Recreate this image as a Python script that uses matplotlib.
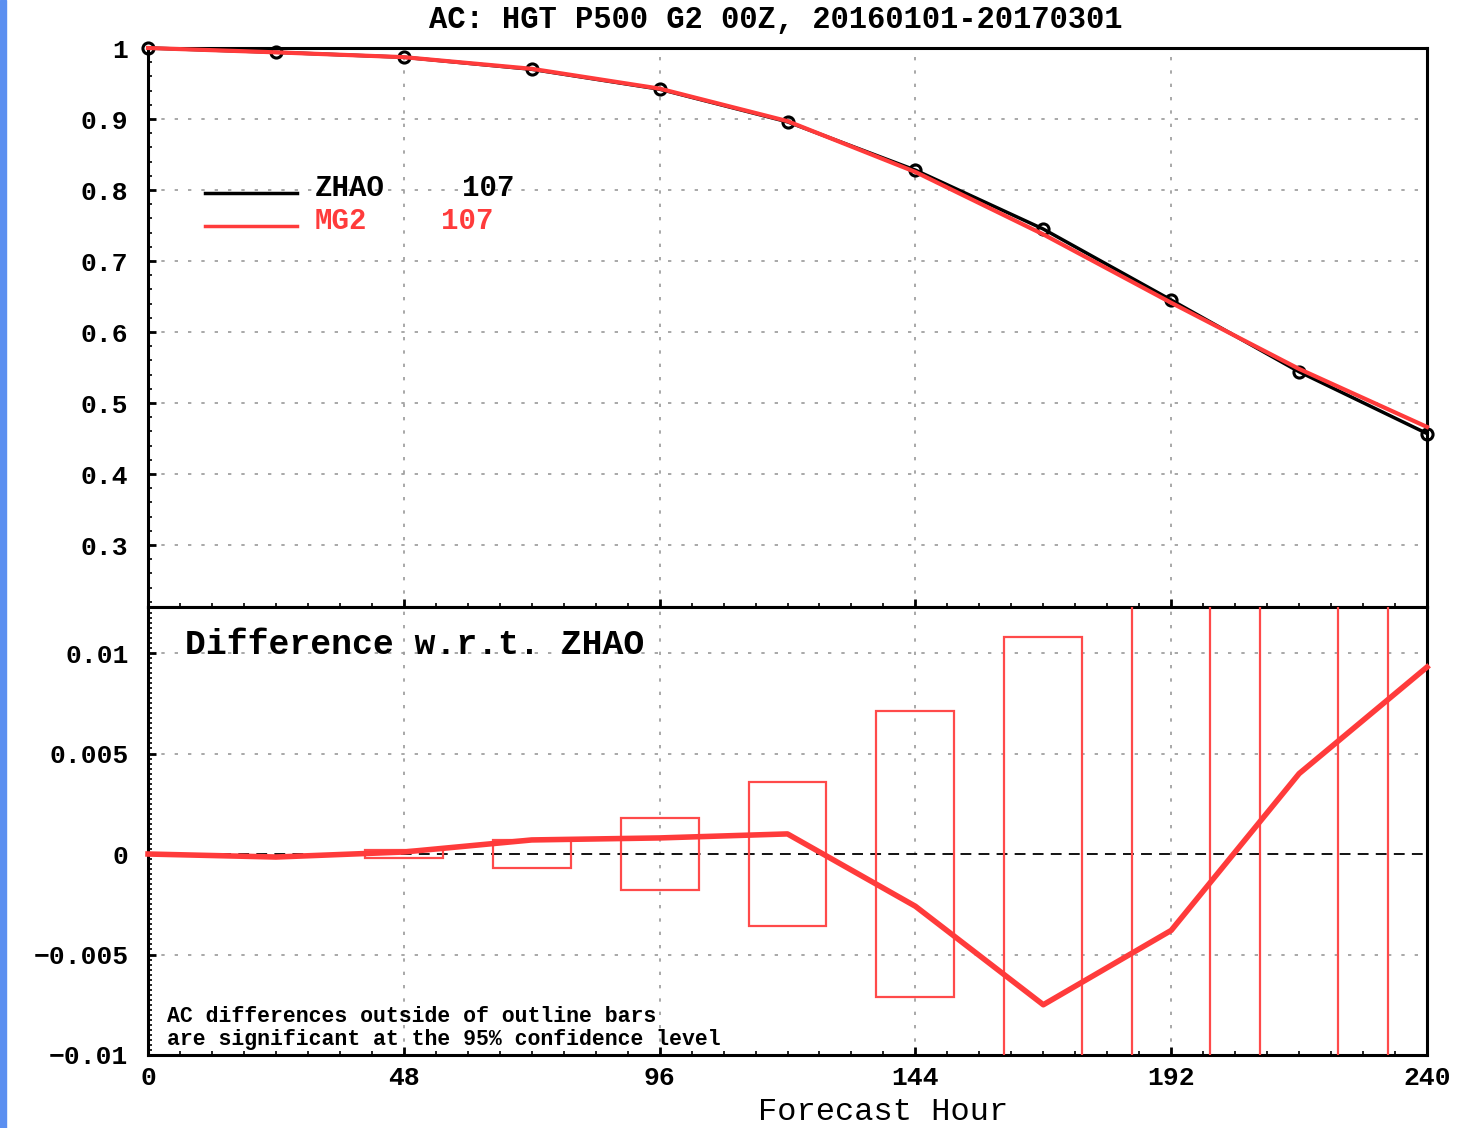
import matplotlib
matplotlib.use("Agg")
import matplotlib.pyplot as plt
from matplotlib.patches import Rectangle
from matplotlib.ticker import MultipleLocator

hours = [0, 24, 48, 72, 96, 120, 144, 168, 192, 216, 240]
zhao = [1.0, 0.994, 0.987, 0.970, 0.942, 0.896, 0.828, 0.745, 0.645, 0.544, 0.457]
mg2 = [1.0, 0.9939, 0.9871, 0.9707, 0.9428, 0.897, 0.8254, 0.7375, 0.6412, 0.548, 0.4663]
diff = [0.0, -0.00015, 0.0001, 0.0007, 0.0008, 0.001, -0.0026, -0.0075, -0.0038, 0.004, 0.0093]
ci_hours = [48, 72, 96, 120, 144, 168, 192, 216, 240]
ci_half = [0.0002, 0.0007, 0.0018, 0.0036, 0.0071, 0.0108, 0.015, 0.018, 0.022]
legend_names = ["ZHAO", "MG2"]
legend_counts = ["107", "107"]
xticks = [0, 48, 96, 144, 192, 240]
top_yticks = [0.3, 0.4, 0.5, 0.6, 0.7, 0.8, 0.9, 1.0]
top_ylabels = ["0.3", "0.4", "0.5", "0.6", "0.7", "0.8", "0.9", "1"]
bot_yticks = [-0.01, -0.005, 0, 0.005, 0.01]
bot_ylabels = ["\u22120.01", "\u22120.005", "0", "0.005", "0.01"]

RED = "#ff3b3b"
BARRED = "#ff4a4a"
FONT = "Liberation Mono"

fig = plt.figure(figsize=(14.64, 11.28), dpi=100)
fig.patches.append(Rectangle((0, 0), 6 / 1464, 1, transform=fig.transFigure,
                             color="#5b8ff0", zorder=0))

L = 148 / 1464
R = 1427 / 1464
y_top = 1 - 48 / 1128
y_mid = 1 - 607 / 1128
y_bot = 1 - 1055 / 1128

ax1 = fig.add_axes([L, y_mid, R - L, y_top - y_mid])
ax2 = fig.add_axes([L, y_bot, R - L, y_mid - y_bot])

grid_kw = dict(color="#9a9a9a", linestyle=(0, (2, 6)), linewidth=1.2)

# ---- top panel
ax1.set_xlim(0, 240)
ax1.set_ylim(0.2127, 1.0)
for y in [0.3, 0.4, 0.5, 0.6, 0.7, 0.8, 0.9]:
    ax1.axhline(y, zorder=1, **grid_kw)
for x in [48, 96, 144, 192]:
    ax1.axvline(x, zorder=1, **grid_kw)
ax1.plot(hours, zhao, color="black", lw=2.5, marker="o", ms=8, mfc="none",
         mew=2.2, zorder=3, clip_on=False)
ax1.plot(hours, mg2, color=RED, lw=3, zorder=4, clip_on=False)
ax1.set_xticks(xticks)
ax1.set_xticklabels([])
ax1.set_yticks(top_yticks)
ax1.set_yticklabels(top_ylabels)
ax1.xaxis.set_minor_locator(MultipleLocator(6))
ax1.yaxis.set_minor_locator(MultipleLocator(0.02))

# legend
ax1.plot([10.7, 28], [0.796, 0.796], color="black", lw=2.5)
ax1.plot([10.7, 28], [0.749, 0.749], color=RED, lw=2.5)
ax1.text(31.3, 0.803, legend_names[0], color="black",
         fontsize=21, fontweight="bold", family=FONT, va="center")
ax1.text(58.9, 0.803, legend_counts[0], color="black",
         fontsize=21, fontweight="bold", family=FONT, va="center")
ax1.text(31.3, 0.756, legend_names[1], color=RED,
         fontsize=21, fontweight="bold", family=FONT, va="center")
ax1.text(55.0, 0.756, legend_counts[1], color=RED,
         fontsize=21, fontweight="bold", family=FONT, va="center")

# ---- bottom panel
ax2.set_xlim(0, 240)
ax2.set_ylim(-0.01, 0.01229)
for y in [0.01, 0.005, -0.005]:
    ax2.axhline(y, zorder=1, **grid_kw)
for x in [48, 96, 144, 192]:
    ax2.axvline(x, zorder=1, **grid_kw)
ax2.axhline(0, color="black", lw=1.3, linestyle=(0, (6, 4)), zorder=2)
hw = 7.3
for h, c in zip(ci_hours, ci_half):
    ax2.add_patch(Rectangle((h - hw, -c), 2 * hw, 2 * c, fill=False,
                            edgecolor=BARRED, lw=1.6, zorder=3))
ax2.plot(hours, diff, color=RED, lw=4, zorder=4, clip_on=False)
ax2.set_xticks(xticks)
ax2.set_xticklabels([str(x) for x in xticks])
ax2.set_yticks(bot_yticks)
ax2.set_yticklabels(bot_ylabels)
ax2.xaxis.set_minor_locator(MultipleLocator(6))
ax2.yaxis.set_minor_locator(MultipleLocator(0.00025))

ax2.text(7.0, 0.0104, "Difference w.r.t. ZHAO", fontsize=25, fontweight="bold",
         family=FONT, va="center")
ax2.text(3.6, -0.0081, "AC differences outside of outline bars", fontsize=15.5,
         family=FONT, va="center", fontweight="bold")
ax2.text(3.6, -0.00925, "are significant at the 95% confidence level", fontsize=15.5,
         family=FONT, va="center", fontweight="bold")

for ax in (ax1, ax2):
    for s in ax.spines.values():
        s.set_linewidth(2.2)
        s.set_color("black")
    ax.tick_params(which="major", direction="in", length=6, width=2,
                   labelsize=19, pad=8)
    ax.tick_params(axis="y", which="major", pad=14)
    ax.tick_params(which="minor", direction="in", length=3, width=1.2)
    for lab in ax.get_xticklabels() + ax.get_yticklabels():
        lab.set_fontfamily(FONT)
        lab.set_fontweight("bold")

fig.text(883 / 1464, 1 - 1112 / 1128, "Forecast Hour", ha="center",
         va="center", fontsize=23, family=FONT)
fig.text((L + R) / 2 - 0.008, 1 - 20 / 1128, "AC: HGT P500 G2 00Z, 20160101-20170301",
         ha="center", va="center", fontsize=22, fontweight="bold", family=FONT)

fig.savefig("out.png", dpi=100)
